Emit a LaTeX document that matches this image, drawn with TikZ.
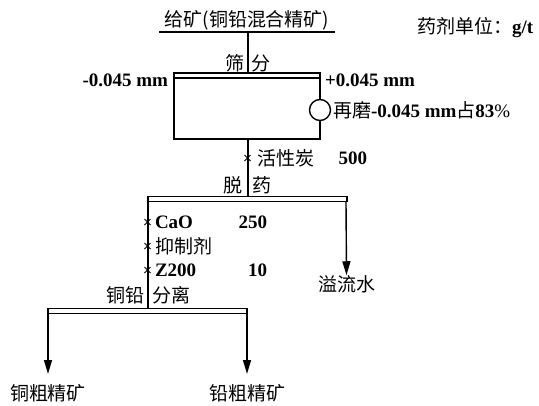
\documentclass[tikz,border=0pt]{standalone}
\usepackage{fontspec}
\setmainfont{Liberation Serif}
\newfontfamily\cjk{Noto Sans CJK SC}
\usetikzlibrary{arrows.meta,shapes.misc}
\begin{document}
\begin{tikzpicture}[x=1pt,y=-1pt,
  every node/.style={inner sep=0pt,outer sep=0pt,font=\fontsize{19}{22}\selectfont},
  ln/.style={line width=1.4pt},
  bar/.style={draw,line width=1.4pt,rectangle,minimum height=5pt,inner sep=0pt},
  arr/.style={line width=1.4pt,-{Triangle[length=14pt,width=8pt]}},
  xmark/.style={draw,cross out,line width=1pt,minimum size=6pt,inner sep=0pt},
  cj/.style={font=\fontsize{19}{22}\selectfont\cjk},
  bd/.style={font=\fontsize{19}{22}\selectfont\bfseries}]
\useasboundingbox (0,0) rectangle (539,405);

% title
\node[cj] (feed) at (247,20) {给矿(铜铅混合精矿)};
\coordinate (ulL) at (159,32);
\coordinate (ulR) at (335,32);
\draw[ln] (ulL) -- (ulR);
\coordinate (feedpt) at (248,32);
\node[cj,anchor=west] (unit) at (417,28) {药剂单位：\textbf{\rmfamily g/t}};

% screening
\node[bar,minimum width=146pt] (bar1) at (247,75.5) {};
\draw[ln] (feedpt) -- (feedpt |- bar1.north);
\node[cj,anchor=east] (s1) at (244,63) {筛};
\node[cj,anchor=west] (s2) at (251,63) {分};
\node[bd,anchor=east] (fine) at (168,80) {-0.045 mm};
\node[bd,anchor=west] (coarse) at (325,80) {+0.045 mm};

% box with regrind
\node[circle,draw,line width=1.4pt,minimum size=21pt,inner sep=0pt] (regrind) at (320,110) {};
\node[anchor=west] (regtxt) at (333,110) {{\cjk 再磨}\textbf{-0.045 mm}{\cjk 占}\textbf{83}\%};
\coordinate (boxBL) at (174,139);
\coordinate (boxBR) at (320,139);
\coordinate (boxBC) at (248,139);
\draw[ln] (bar1.south west) -- (boxBL) -- (boxBR) -- (regrind.south);
\draw[ln] (regrind.north) -- (bar1.south east);

% de-reagent
\node[bar,minimum width=199pt] (bar2) at (247.5,199) {};
\draw[ln] (boxBC) -- (boxBC |- bar2.north);
\node[xmark] (x1) at (247.5,158) {};
\node[cj,anchor=west] (carbon) at (257,158) {活性炭};
\node[bd,anchor=east] (d500) at (367,158) {500};
\node[cj,anchor=east] (t1) at (242,185) {脱};
\node[cj,anchor=west] (t2) at (252,185) {药};

% overflow
\coordinate (ovtop) at (346,201.5);
\node[cj] (overflow) at (346.5,284) {溢流水};
\draw[arr] (ovtop) -- (overflow.north);

% separation feed line
\coordinate (sepTop) at (148,201.5);
\node[bar,minimum width=199pt] (bar3) at (147.5,311) {};
\draw[ln] (sepTop) -- (sepTop |- bar3.north);
\node[xmark] (x2) at (147.5,222) {};
\node[xmark] (x3) at (147.5,246) {};
\node[xmark] (x4) at (147.5,270) {};
\node[bd,anchor=west] (cao) at (155,222) {CaO};
\node[bd,anchor=east] (d250) at (267,222) {250};
\node[cj,anchor=west] (dep) at (155,246) {抑制剂};
\node[bd,anchor=west] (z200) at (155,270) {Z200};
\node[bd,anchor=east] (d10) at (267,270) {10};
\node[cj,anchor=east] (u1) at (144,295) {铜铅};
\node[cj,anchor=west] (u2) at (152,295) {分离};

% products
\node[cj] (cu) at (48,393) {铜粗精矿};
\node[cj] (pb) at (247,393) {铅粗精矿};
\coordinate (b3L) at (48,313.5);
\coordinate (b3R) at (247,313.5);
\draw[arr] (b3L) -- (b3L |- 0,374);
\draw[arr] (b3R) -- (b3R |- 0,374);
\end{tikzpicture}
\end{document}
